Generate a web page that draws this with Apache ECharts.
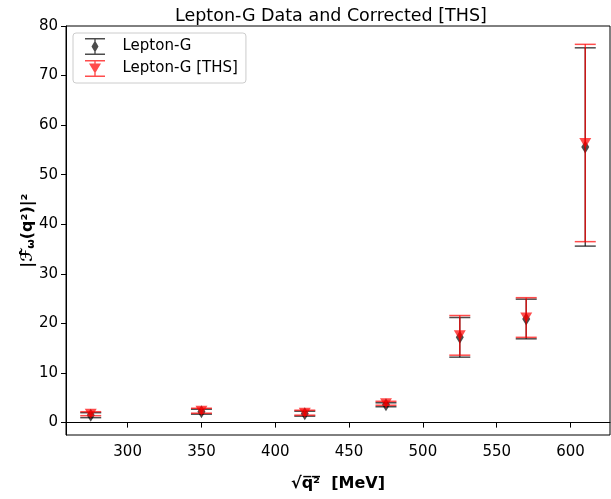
<!DOCTYPE html>
<html>
<head>
<meta charset="utf-8">
<script src="https://cdn.jsdelivr.net/npm/echarts@6/dist/echarts.min.js"></script>
<style>
  html, body { margin: 0; padding: 0; background: #fff; }
  #chart { width: 611px; height: 499px; }
</style>
</head>
<body>
<div id="chart"></div>
<script>
// sqrt(q^2) positions in MeV
const xValues = [275, 350, 420, 475, 525, 570, 610];
// Lepton-G data
const leptonG = [1.5, 2.2, 1.8, 3.6, 17.2, 20.9, 55.6];
const leptonGErr = [0.5, 0.5, 0.5, 0.4, 4.0, 4.0, 20.0];
// corrected [THS]
const ths = [1.8, 2.4, 2.0, 3.9, 17.6, 21.2, 56.4];
const thsErr = [0.4, 0.5, 0.5, 0.4, 4.0, 4.0, 19.9];

const xTicks = [300, 350, 400, 450, 500, 550, 600];
const yTicks = [0, 10, 20, 30, 40, 50, 60, 70, 80];

const blackCol = 'rgba(0,0,0,0.7)';
const redCol = 'rgba(255,0,0,0.7)';
const font = 'DejaVu Sans';

const chart = echarts.init(document.getElementById('chart'));

function errBars(color) {
    return function (params, api) {
        const x = api.value(0), y = api.value(1), e = api.value(2);
        const top = api.coord([x, y + e]);
        const bot = api.coord([x, y - e]);
        const hw = 10.5;
        const st = { stroke: color, lineWidth: 1.5 };
        return {
            type: 'group',
            children: [
                { type: 'line', shape: { x1: top[0], y1: top[1], x2: bot[0], y2: bot[1] }, style: st },
                { type: 'line', shape: { x1: top[0] - hw, y1: top[1], x2: top[0] + hw, y2: top[1] }, style: st },
                { type: 'line', shape: { x1: bot[0] - hw, y1: bot[1], x2: bot[0] + hw, y2: bot[1] }, style: st }
            ]
        };
    };
}

const iconDiamond = 'path://M2,1.5H22V3H2Z M2,17H22V18.5H2Z M11.3,3H12.7V17H11.3Z M12,4L15.5,10L12,16L8.5,10Z';
const iconTri = 'path://M2,1.5H22V3H2Z M2,17H22V18.5H2Z M11.3,3H12.7V17H11.3Z M6,5H18L12,15Z';

chart.setOption({
    animation: false,
    title: {
        text: 'Lepton-G Data and Corrected [THS]',
        left: 170,
        top: 2,
        textStyle: { fontFamily: font, fontSize: 17.5, fontWeight: 'normal', color: '#000' }
    },
    grid: {
        left: 66, right: 1, top: 26, bottom: 64,
        show: true, borderColor: '#000', borderWidth: 1
    },
    legend: {
        orient: 'vertical',
        left: 73, top: 33,
        itemWidth: 21, itemHeight: 17, itemGap: 5,
        padding: [5, 8, 6, 12],
        borderColor: '#ccc', borderWidth: 1, borderRadius: 3,
        textStyle: { fontFamily: font, fontSize: 15, color: '#000', padding: [0, 0, 0, 12] },
        data: [
            { name: 'Lepton-G', icon: iconDiamond },
            { name: 'Lepton-G [THS]', icon: iconTri }
        ]
    },
    xAxis: {
        type: 'value',
        min: 258.25, max: 626.75,
        name: '√q̅²̅  [MeV]',
        nameLocation: 'middle',
        nameGap: 41,
        nameMoveOverlap: false,
        nameTextStyle: { fontFamily: font, fontSize: 16, fontWeight: 'bold', color: '#000' },
        axisLine: { lineStyle: { color: '#000' } },
        axisTick: { length: 5, lineStyle: { color: '#000' }, customValues: xTicks },
        axisLabel: { fontFamily: font, fontSize: 15, color: '#000', margin: 10, customValues: xTicks },
        splitLine: { show: false }
    },
    yAxis: {
        type: 'value',
        min: -2.5, max: 80,
        name: '|ℱ̂{s|ω}(q²)|²',
        nameLocation: 'middle',
        nameGap: 29,
        nameMoveOverlap: false,
        nameTextStyle: {
            fontFamily: font, fontSize: 16, fontWeight: 'bold', color: '#000',
            rich: { s: { fontFamily: font, fontSize: 11, fontWeight: 'bold', color: '#000', verticalAlign: 'bottom', padding: [7, 0, 0, 0] } }
        },
        axisLine: { lineStyle: { color: '#000' } },
        axisTick: { length: 5, lineStyle: { color: '#000' }, customValues: yTicks },
        axisLabel: { fontFamily: font, fontSize: 15, color: '#000', margin: 8, customValues: yTicks },
        splitLine: { show: false }
    },
    series: [
        {
            name: 'Lepton-G',
            type: 'custom',
            renderItem: errBars(blackCol),
            data: xValues.map((x, i) => [x, leptonG[i], leptonGErr[i]]),
            itemStyle: { color: blackCol },
            z: 2
        },
        {
            name: 'Lepton-G',
            type: 'scatter',
            symbol: 'diamond',
            symbolSize: [8, 13],
            data: xValues.map((x, i) => [x, leptonG[i]]),
            itemStyle: { color: blackCol, opacity: 1 },
            z: 3
        },
        {
            name: 'Lepton-G [THS]',
            type: 'custom',
            renderItem: errBars(redCol),
            data: xValues.map((x, i) => [x, ths[i], thsErr[i]]),
            itemStyle: { color: redCol },
            z: 4
        },
        {
            name: 'Lepton-G [THS]',
            type: 'scatter',
            symbol: 'triangle',
            symbolRotate: 180,
            symbolSize: [12, 10],
            data: xValues.map((x, i) => [x, ths[i]]),
            itemStyle: { color: redCol, opacity: 1 },
            z: 5
        }
    ]
});
</script>
</body>
</html>
